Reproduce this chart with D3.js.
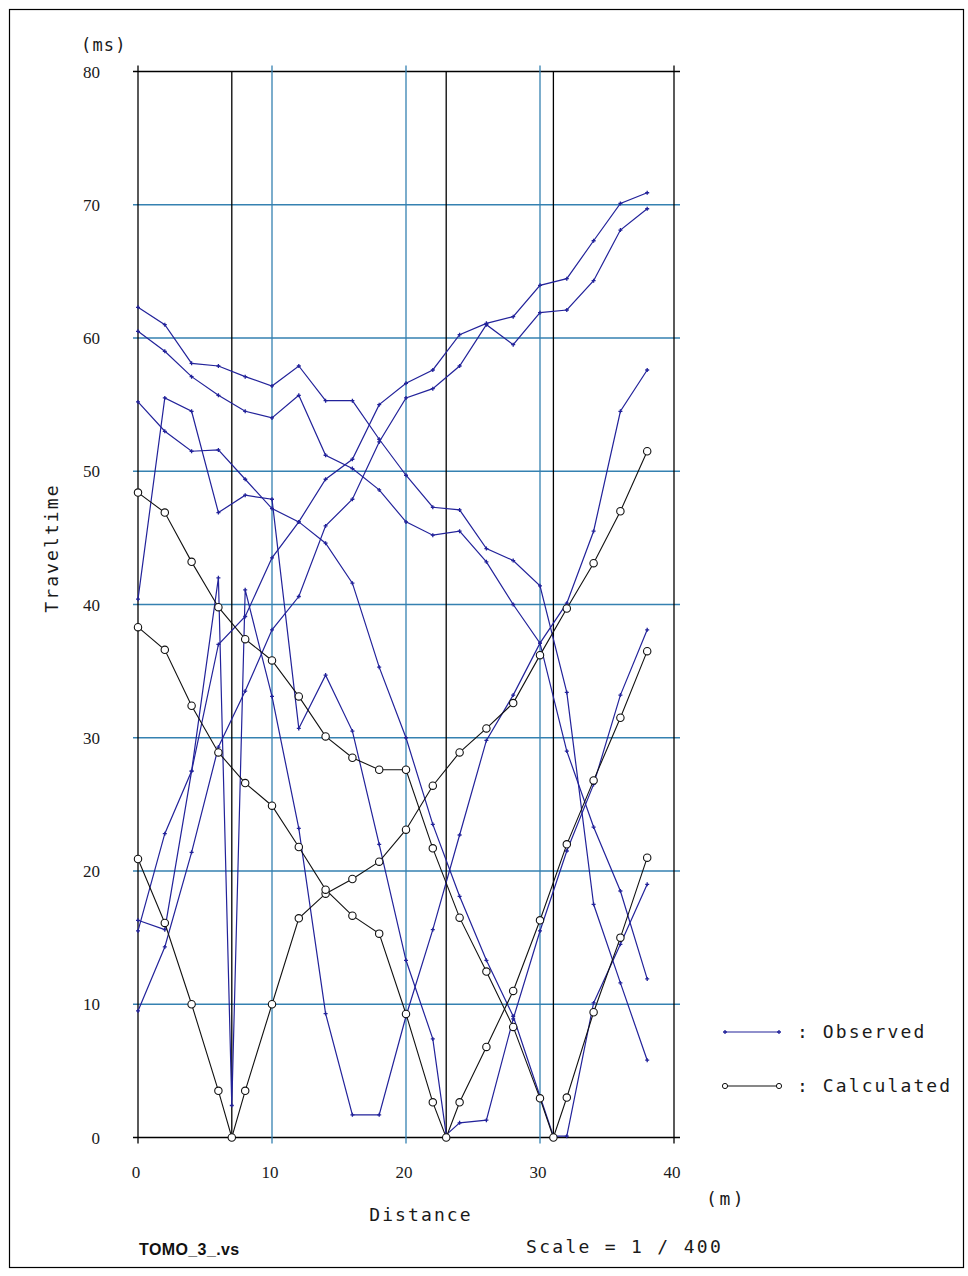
<!DOCTYPE html>
<html>
<head>
<meta charset="utf-8">
<script src="https://cdn.jsdelivr.net/npm/d3@7"></script>
<style>
  body { margin: 0; background: #ffffff; }
  svg { display: block; }
</style>
</head>
<body>
<svg id="chart" width="968" height="1276"></svg>
<script>
// Axis ticks
const xTicks = [0, 10, 20, 30, 40];
const yTicks = [0, 10, 20, 30, 40, 50, 60, 70, 80];

// Shot positions (m)
const sources = [7, 23, 31];

// Receiver positions for calculated curves (m)
const receivers = [0, 2, 4, 6, 8, 10, 12, 14, 16, 18, 20, 22, 24, 26, 28, 30, 32, 34, 36, 38];

// Calculated traveltimes (ms) at receivers, one list per shot
const calcShot7  = [20.9, 16.1, 10.0, 3.5, 3.5, 10.0, 16.45, 18.3, 19.4, 20.7, 23.1, 26.4, 28.9, 30.7, 32.6, 36.2, 39.7, 43.1, 47.0, 51.5];
const calcShot23 = [38.3, 36.6, 32.4, 28.9, 26.6, 24.9, 21.8, 18.6, 16.65, 15.3, 9.27, 2.64, 2.64, 6.8, 11.0, 16.3, 22.0, 26.8, 31.5, 36.5];
const calcShot31 = [48.4, 46.9, 43.2, 39.8, 37.4, 35.8, 33.1, 30.1, 28.5, 27.6, 27.6, 21.7, 16.5, 12.45, 8.3, 2.94, 3.0, 9.4, 15.0, 21.0];

// Observed picks: [distance m, traveltime ms]
const obsA = [[0,62.3],[2,61.0],[4,58.1],[6,57.9],[8,57.1],[10,56.4],[12,57.9],[14,55.3],[16,55.3],[18,52.4],[20,49.7],[22,47.3],[24,47.1],[26,44.2],[28,43.3],[30,41.4],[32,33.4],[34,17.5],[36,11.6],[38,5.8]];
const obsB = [[0,60.5],[2,59.0],[4,57.1],[6,55.7],[8,54.5],[10,54.0],[12,55.7],[14,51.2],[16,50.2],[18,48.6],[20,46.2],[22,45.2],[24,45.5],[26,43.2],[28,40.0],[30,37.1],[32,29.0],[34,23.3],[36,18.5],[38,11.9]];
const obsC = [[0,55.2],[2,53.0],[4,51.5],[6,51.6],[8,49.4],[10,47.2],[12,46.2],[14,44.6],[16,41.6],[18,35.3],[20,30.0],[22,23.5],[24,18.1],[26,13.3],[28,9.1],[30,3.1],[31,0.1],[32,0.1],[34,10.1],[36,14.5],[38,19.0]];
const obsD = [[0,40.4],[2,55.5],[4,54.5],[6,46.9],[8,48.2],[10,47.9],[12,30.7],[14,34.7],[16,30.5],[18,22.0],[20,13.3],[22,7.4],[23,0.2],[24,1.1],[26,1.3],[28,8.9],[30,15.5],[32,21.5],[34,26.5],[36,33.2],[38,38.1]];
const obsE = [[0,16.3],[2,15.6],[4,27.5],[6,42.0],[7,2.4],[8,41.1],[10,33.1],[12,23.2],[14,9.3],[16,1.7],[18,1.7],[20,9.1],[22,15.6],[24,22.7],[26,29.8],[28,33.2],[30,37.1],[32,40.1],[34,45.5],[36,54.5],[38,57.6]];
const obsF = [[0,15.5],[2,22.8],[4,27.5],[6,37.0],[8,39.1],[10,43.5],[12,46.2],[14,49.4],[16,50.9],[18,55.0],[20,56.6],[22,57.6],[24,60.25],[26,61.1],[28,61.6],[30,63.95],[32,64.45],[34,67.3],[36,70.1],[38,70.9]];
const obsG = [[0,9.5],[2,14.3],[4,21.4],[6,29.3],[8,33.5],[10,38.1],[12,40.6],[14,45.9],[16,47.9],[18,52.2],[20,55.5],[22,56.2],[24,57.9],[26,61.0],[28,59.5],[30,61.9],[32,62.1],[34,64.3],[36,68.1],[38,69.7]];

const observed = [obsA, obsB, obsC, obsD, obsE, obsF, obsG];
const calculated = [calcShot7, calcShot23, calcShot31];

// Build a calculated curve with the shot point (zero time) inserted in order
function calcCurve(values, shot) {
  const pts = receivers.map((d, i) => [d, values[i]]);
  pts.push([shot, 0]);
  return pts.sort((a, b) => a[0] - b[0]);
}

const svg = d3.select("#chart");
const GRID = "#3581b1";
const OBS = "#22229a";
const INK = "#1a1a1a";
const MONO = "'DejaVu Sans Mono', monospace";

const x = d3.scaleLinear().domain([0, 40]).range([138, 674]);
const y = d3.scaleLinear().domain([0, 80]).range([1137.5, 71.5]);

// Outer frame
svg.append("rect").attr("x", 9.5).attr("y", 9.5).attr("width", 954).attr("height", 1258)
  .attr("fill", "none").attr("stroke", "#000").attr("stroke-width", 1.2);

// Horizontal grid (inner values) and frame lines at 0 / 80
svg.append("g").selectAll("line").data(yTicks).join("line")
  .attr("x1", x(0) - 5).attr("x2", x(40) + 6)
  .attr("y1", d => y(d)).attr("y2", d => y(d))
  .attr("stroke", d => (d === 0 || d === 80) ? "#000" : GRID)
  .attr("stroke-width", 1.3);

// Vertical grid and side axes
svg.append("g").selectAll("line").data(xTicks).join("line")
  .attr("x1", d => x(d)).attr("x2", d => x(d))
  .attr("y1", y(80) - 6).attr("y2", y(0) + 6)
  .attr("stroke", d => (d === 0 || d === 40) ? "#000" : GRID)
  .attr("stroke-width", 1.3);

// Shot position markers
svg.append("g").selectAll("line").data(sources).join("line")
  .attr("x1", d => x(d)).attr("x2", d => x(d))
  .attr("y1", y(80)).attr("y2", y(0))
  .attr("stroke", "#000").attr("stroke-width", 1.3);

// Tick labels
svg.append("g").selectAll("text").data(yTicks).join("text")
  .attr("x", 100).attr("y", d => y(d) + 6)
  .attr("text-anchor", "end")
  .attr("font-family", "'Liberation Serif', serif").attr("font-size", 17)
  .attr("fill", INK)
  .text(d => d);

svg.append("g").selectAll("text").data(xTicks).join("text")
  .attr("x", d => x(d) - 2).attr("y", 1178)
  .attr("text-anchor", "middle")
  .attr("font-family", "'Liberation Serif', serif").attr("font-size", 17)
  .attr("fill", INK)
  .text(d => d);

// Axis titles and captions
function label(txt, px, py, opts = {}) {
  const t = svg.append("text").attr("x", px).attr("y", py)
    .attr("font-family", opts.family || MONO)
    .attr("font-size", opts.size || 18)
    .attr("letter-spacing", opts.spacing != null ? opts.spacing : 2.1)
    .attr("font-weight", opts.weight || "normal")
    .attr("text-anchor", opts.anchor || "start")
    .attr("fill", opts.fill || INK)
    .text(txt);
  if (opts.rotate) t.attr("transform", `rotate(-90 ${px} ${py})`);
  return t;
}
label("(ms)", 81, 51, { size: 17, spacing: 1.2 });
label("Traveltime", 58, 548, { anchor: "middle", rotate: true });
label("Distance", 421, 1221, { anchor: "middle" });
label("(m)", 706, 1205, { spacing: 2.6 });
label("TOMO_3_.vs", 139, 1255, { family: "'Liberation Sans', Arial, sans-serif", size: 16, weight: "bold", spacing: 0.4, fill: "#111" });
label("Scale = 1 / 400", 526, 1253, { spacing: 2.3 });

// Curves
const line = d3.line().x(d => x(d[0])).y(d => y(d[1]));

const plot = svg.append("g");

// Observed curves
plot.append("g").selectAll("path").data(observed).join("path")
  .attr("d", line).attr("fill", "none")
  .attr("stroke", OBS).attr("stroke-width", 1.2);

const obsPts = observed.flat();
plot.append("g").selectAll("path").data(obsPts).join("path")
  .attr("transform", d => `translate(${x(d[0])},${y(d[1])})`)
  .attr("d", "M-2,0H2M0,-2V2")
  .attr("stroke", OBS).attr("stroke-width", 1.3);

// Calculated curves
const calcData = calculated.map((v, i) => calcCurve(v, sources[i]));
plot.append("g").selectAll("path").data(calcData).join("path")
  .attr("d", line).attr("fill", "none")
  .attr("stroke", "#111").attr("stroke-width", 1.1);

plot.append("g").selectAll("circle").data(calcData.flat()).join("circle")
  .attr("cx", d => x(d[0])).attr("cy", d => y(d[1])).attr("r", 3.7)
  .attr("fill", "#fff").attr("stroke", "#111").attr("stroke-width", 1.1);

// Legend
const lg = svg.append("g");
lg.append("line").attr("x1", 725).attr("x2", 779).attr("y1", 1032).attr("y2", 1032)
  .attr("stroke", OBS).attr("stroke-width", 1.2);
lg.selectAll("path.m").data([725, 779]).join("path").attr("class", "m")
  .attr("transform", d => `translate(${d},1032)`)
  .attr("d", "M-2,0H2M0,-2V2").attr("stroke", OBS).attr("stroke-width", 1.3);
label(": Observed", 797, 1038);

lg.append("line").attr("x1", 725).attr("x2", 779).attr("y1", 1086).attr("y2", 1086)
  .attr("stroke", "#111").attr("stroke-width", 1.1);
lg.selectAll("circle").data([725, 779]).join("circle")
  .attr("cx", d => d).attr("cy", 1086).attr("r", 2.6)
  .attr("fill", "#fff").attr("stroke", "#111").attr("stroke-width", 1);
label(": Calculated", 797, 1092);
</script>
</body>
</html>
